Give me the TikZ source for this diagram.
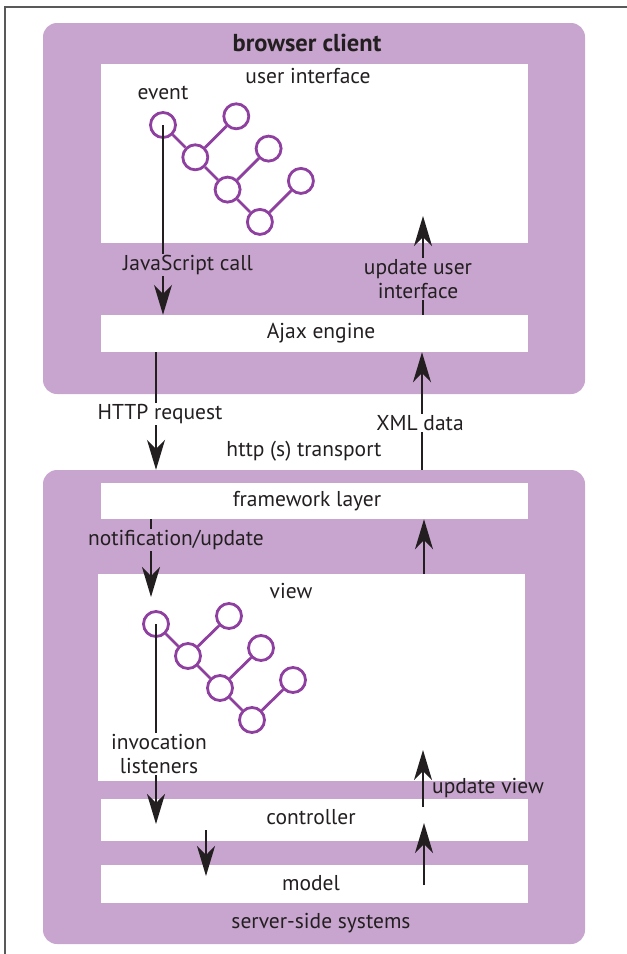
\documentclass[tikz,border=0pt]{standalone}
\usepackage{fontspec}
\setmainfont{PT Sans}
\usetikzlibrary{arrows.meta,positioning,calc}
\definecolor{mauve}{HTML}{C8A5CF}
\definecolor{plum}{HTML}{8E3FA0}
\definecolor{ink}{HTML}{231F20}
\tikzset{
  panel/.style={fill=mauve, draw=none, rounded corners=14pt, inner sep=0pt},
  layer/.style={fill=white, draw=none, inner sep=0pt, minimum width=427pt},
  blob/.style={circle, draw=plum, fill=white, line width=2.8pt, minimum size=25pt, inner sep=0pt},
  twig/.style={plum, line width=2.8pt},
  flow/.style={ink, line width=1.8pt, -{Stealth[length=30pt,width=18pt,inset=9pt]}},
  lbl/.style={font=\fontsize{21.5}{24}\selectfont, text=ink, inner sep=1pt},
}
% little widget tree: #1 prefix, #2/#3 top circle, #4 down step, #5/#6 leaf offset
\newcommand{\widgettree}[6]{%
  \foreach \k in {0,1,2,3} {
    \node[blob] (#1s\k) at ($(#2,#3)+(\k*#4,\k*#4)$) {};
  }
  \foreach \k in {1,2,3} {
    \node[blob] (#1l\k) at ($(#1s\k)+(#5,#6)$) {};
  }
  \draw[twig] (#1s0) -- (#1s1) -- (#1s2) -- (#1s3);
  \foreach \k in {1,2,3} {
    \draw[twig] (#1s\k) -- (#1l\k);
  }
}

\begin{document}
\begin{tikzpicture}[x=1pt,y=-1pt]
\useasboundingbox (0,0) rectangle (627,954);
% frame
\draw[black!65,line width=1.4pt] (5,954) -- (5,7) -- (627,7);

% browser client
\node[panel, minimum width=542pt, minimum height=371pt] (browser) at (314,208.5) {};
\node[lbl, font=\fontsize{24.5}{28}\selectfont\bfseries] (btitle) at (307,43) {browser client};
\node[layer, minimum height=179pt] (ui) at (314.5,153.5) {};
\node[layer, minimum height=37pt] (ajax) at (314.5,333.5) {};
\node[lbl] (uitext) at (308,76) {user interface};
\node[lbl] (ajaxtext) at (321,333) {Ajax engine};
\node[lbl] (event) at (163,93) {event};
\widgettree{u}{163}{125}{32.3}{41}{-41}

% server side
\node[panel, minimum width=542pt, minimum height=474pt] (server) at (314,707) {};
\node[layer, minimum height=36pt] (frame) at (314.5,501) {};
\node[layer, minimum height=207pt] (view) at (311.5,677.5) {};
\node[layer, minimum height=42pt] (ctrl) at (314.5,820) {};
\node[layer, minimum height=38pt] (model) at (314.5,884) {};
\node[lbl] (frametext) at (307,501) {framework layer};
\node[lbl] (viewtext) at (291,591) {view};
\node[lbl] (ctrltext) at (311,817) {controller};
\node[lbl] (modeltext) at (311,883) {model};
\node[lbl] (srvtext) at (321,923) {server-side systems};
\widgettree{v}{156}{624}{32}{41}{-40}

% arrow ends
\coordinate (uiTip) at (423,216);
\coordinate (viewTip) at (151,597);
\coordinate (ctrlTip) at (155,824);
\coordinate (uvFoot) at (423,807);
\coordinate (uvTip) at (423,750);
\coordinate (dnFoot) at (206,830);
\coordinate (dnTip) at (206,876);
\coordinate (upFoot) at (424,885);
\coordinate (upTip) at (424,823);

% client flows
\draw[flow] (us0.center) -- (us0.center |- ajax.north);
\node[lbl, fill=mauve] (jscall) at (188,265) {JavaScript call};
\draw[flow] (ajax.north -| uiTip) -- (uiTip);
\node[lbl, fill=mauve, align=center] (updui) at (418,279) {update user\\interface};

% transport
\draw[flow] (ajax.south -| 156,0) -- (server.north -| 156,0);
\node[lbl, fill=white] (httpreq) at (160,414) {HTTP request};
\draw[flow] (server.north -| 422,0) -- (ajax.south -| 422,0);
\node[lbl, fill=white] (xmldata) at (420,423) {XML data};
\node[lbl] (transport) at (304,451) {http (s) transport};

% server flows
\draw[flow] (frame.south -| viewTip) -- (viewTip);
\node[lbl, fill=mauve] (notify) at (176,540) {notification/update};
\draw[flow] (view.north -| 424,0) -- (frame.south -| 424,0);
\draw[flow] (vs0.center) -- (vs0.center |- ctrlTip);
\node[lbl, fill=white, align=center] (invoke) at (159,754) {invocation\\listeners};
\draw[flow] (uvFoot) -- (uvTip);
\node[lbl, anchor=west] (updview) at (431,788) {update view};
\draw[flow] (dnFoot) -- (dnTip);
\draw[flow] (upFoot) -- (upTip);
\end{tikzpicture}
\end{document}
